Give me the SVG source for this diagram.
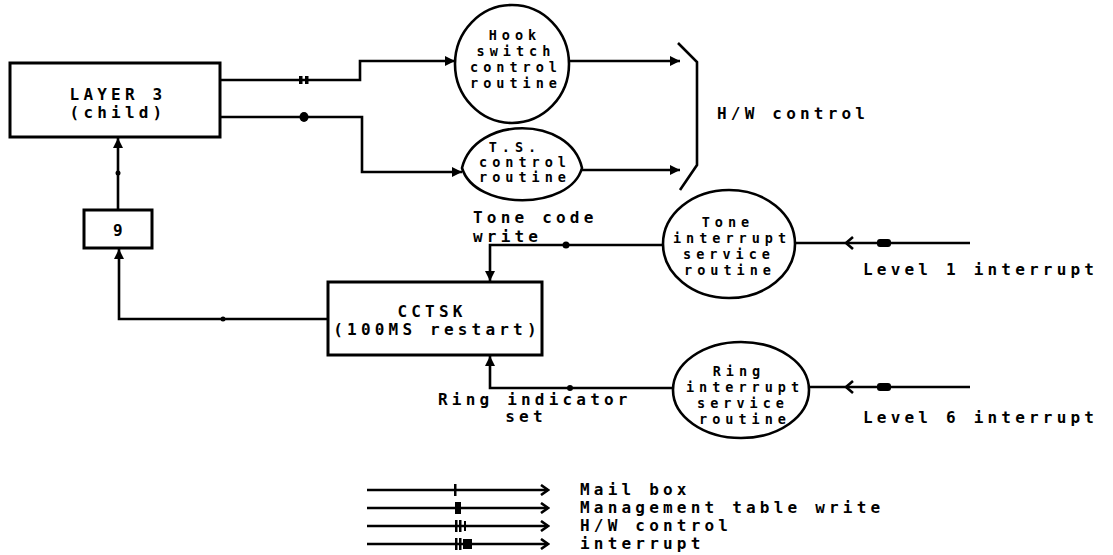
<svg xmlns="http://www.w3.org/2000/svg" width="1113" height="555" viewBox="0 0 1113 555">
<defs>
<style>
.t{font-family:"DejaVu Sans Mono","Liberation Mono",monospace;font-weight:bold;font-size:16px;letter-spacing:4.2px;fill:#000}
.e{font-size:13.5px;letter-spacing:5px}
.m{text-anchor:middle}
.ln{fill:none;stroke:#000;stroke-width:2.6;stroke-linejoin:miter}
.box{fill:#fff;stroke:#000;stroke-width:3}
.sh{fill:#fff;stroke:#000;stroke-width:2.6}
</style>
<marker id="ah" markerUnits="userSpaceOnUse" markerWidth="11" markerHeight="10" refX="10" refY="5" orient="auto">
<path d="M0,0 L10,5 L0,10 Z" fill="#000"/>
</marker>
<marker id="ch" markerUnits="userSpaceOnUse" markerWidth="10" markerHeight="12" refX="8" refY="6" orient="auto">
<path d="M1,1 L8,6 L1,11" fill="none" stroke="#000" stroke-width="2.6"/>
</marker>
</defs>
<rect width="1113" height="555" fill="#fff"/>

<g id="connectors">
<path class="ln" d="M220,80 H360 V61 H455" marker-end="url(#ah)"/>
<path class="ln" d="M220,117 H362 V172 H462" marker-end="url(#ah)"/>
<path class="ln" d="M570,61 H680" marker-end="url(#ah)"/>
<path class="ln" d="M582,170 H680" marker-end="url(#ah)"/>
<path class="ln" d="M118,210 V138" marker-end="url(#ah)"/>
<path class="ln" d="M328,319 H119 V249" marker-end="url(#ah)"/>
<path class="ln" d="M663,245 H490 V281" marker-end="url(#ah)"/>
<path class="ln" d="M673,388 H490 V356" marker-end="url(#ah)"/>
<path class="ln" d="M970,243 H795"/>
<path class="ln" d="M970,387 H810"/>
<rect x="299" y="76" width="3.5" height="8" fill="#000"/>
<rect x="305" y="76" width="3.5" height="8" fill="#000"/>
<ellipse cx="304" cy="117" rx="4.5" ry="5" fill="#000"/>
<circle cx="566" cy="245" r="3.5" fill="#000"/>
<circle cx="570" cy="388" r="3" fill="#000"/>
<circle cx="118" cy="173" r="2.5" fill="#000"/>
<circle cx="223" cy="319" r="2.5" fill="#000"/>
<path d="M853,237 L846,243 L853,249" fill="none" stroke="#000" stroke-width="2.6"/>
<rect x="877" y="239" width="14" height="8" rx="3" fill="#000"/>
<path d="M853,381 L846,387 L853,393" fill="none" stroke="#000" stroke-width="2.6"/>
<rect x="877" y="383" width="14" height="8" rx="3" fill="#000"/>
</g>

<g id="layer3">
<rect class="box" x="10" y="63" width="210" height="74"/>
<text class="t m" x="118" y="100">LAYER 3</text>
<text class="t m" x="118" y="118">(child)</text>
</g>

<g id="box9">
<rect class="box" x="84" y="210" width="68" height="38"/>
<text class="t m" x="120" y="236">9</text>
</g>

<g id="hook">
<ellipse class="sh" cx="512" cy="64" rx="57" ry="59"/>
<text class="t e m" x="515" y="40">Hook</text>
<text class="t e m" x="516" y="56">switch</text>
<text class="t e m" x="516" y="72">control</text>
<text class="t e m" x="516" y="88">routine</text>
</g>

<g id="ts">
<path class="sh" d="M462,168 C475,115 570,115 582,168 C570,211 475,211 462,168 Z"/>
<text class="t e m" x="515" y="152">T.S.</text>
<text class="t e m" x="525" y="167">control</text>
<text class="t e m" x="525" y="182">routine</text>
</g>

<g id="hw-control">
<path class="ln" d="M678,43 L697,62 V165 L680,190"/>
<text class="t" x="717" y="119">H/W control</text>
</g>

<g id="tone">
<ellipse class="sh" cx="729" cy="244" rx="66" ry="54"/>
<text class="t e m" x="728" y="227">Tone</text>
<text class="t e m" x="732" y="243">interrupt</text>
<text class="t e m" x="729" y="259">service</text>
<text class="t e m" x="730" y="275">routine</text>
</g>

<g id="ring">
<ellipse class="sh" cx="741" cy="390" rx="68" ry="48"/>
<text class="t e m" x="739" y="376">Ring</text>
<text class="t e m" x="745" y="392">interrupt</text>
<text class="t e m" x="743" y="408">service</text>
<text class="t e m" x="745" y="424">routine</text>
</g>

<g id="cctsk">
<rect class="box" x="328" y="282" width="214" height="73"/>
<text class="t m" x="432" y="317">CCTSK</text>
<text class="t m" x="437" y="335">(100MS restart)</text>
</g>

<g id="labels">
<text class="t" x="473" y="223">Tone code</text>
<text class="t" x="473" y="242">write</text>
<text class="t" x="438" y="405">Ring indicator</text>
<text class="t m" x="526" y="422">set</text>
<text class="t" x="863" y="275">Level 1 interrupt</text>
<text class="t" x="863" y="423">Level 6 interrupt</text>
</g>

<g id="legend">
<path class="ln" d="M367,490 H548" marker-end="url(#ch)"/>
<path class="ln" d="M367,508 H548" marker-end="url(#ch)"/>
<path class="ln" d="M367,526 H548" marker-end="url(#ch)"/>
<path class="ln" d="M367,544 H548" marker-end="url(#ch)"/>
<rect x="454" y="484" width="2.5" height="12" fill="#000"/>
<rect x="455" y="502" width="6" height="12" fill="#000"/>
<rect x="455" y="520" width="2.5" height="12" fill="#000"/>
<rect x="459" y="520" width="2.5" height="12" fill="#000"/>
<rect x="464" y="521" width="2" height="10" fill="#000"/>
<rect x="455" y="538" width="2.5" height="12" fill="#000"/>
<rect x="459" y="538" width="2.5" height="12" fill="#000"/>
<rect x="463" y="539" width="9" height="10" fill="#000"/>
<text class="t" x="580" y="495">Mail box</text>
<text class="t" x="580" y="513">Management table write</text>
<text class="t" x="580" y="531">H/W control</text>
<text class="t" x="580" y="549">interrupt</text>
</g>
</svg>
